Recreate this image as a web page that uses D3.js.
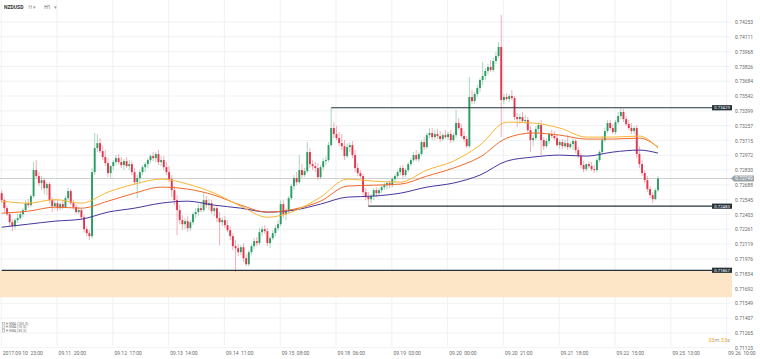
<!DOCTYPE html>
<html lang="en">
<head>
<meta charset="utf-8">
<script src="https://cdn.jsdelivr.net/npm/d3@7"></script>
<style>
  body { margin: 0; background: #fff; }
  svg { display: block; font-family: Roboto, "Noto Sans", sans-serif; }
</style>
</head>
<body>
<script>
// NZDUSD H1 candles, prices in 1e-5 units: [open, high, low, close]
var candles = [
  [72608,72637,72512,72541],[72541,72560,72426,72464],[72464,72483,72387,72406],[72406,72426,72291,72329],
  [72329,72358,72243,72291],[72291,72368,72262,72349],[72349,72406,72320,72368],[72368,72426,72349,72406],
  [72406,72464,72377,72445],[72445,72541,72426,72512],[72512,72551,72464,72493],[72493,72599,72474,72580],
  [72580,72907,72560,72830],[72830,72926,72753,72772],[72772,72810,72676,72705],[72705,72772,72637,72733],
  [72733,72753,72599,72656],[72656,72714,72589,72695],[72695,72714,72512,72541],[72541,72570,72426,72483],
  [72483,72541,72454,72512],[72512,72541,72435,72464],[72464,72522,72445,72503],[72503,72531,72454,72474],
  [72474,72580,72464,72560],[72560,72656,72541,72628],[72628,72647,72493,72512],[72512,72541,72454,72474],
  [72474,72503,72406,72426],[72426,72474,72406,72445],[72445,72464,72349,72377],[72377,72397,72233,72262],
  [72262,72291,72195,72224],[72224,72252,72156,72195],[72195,72849,72176,72810],[72810,73186,72782,73041],
  [73041,73176,73003,73089],[73089,73137,72993,73012],[73012,73070,72926,72955],[72955,73022,72868,72897],
  [72897,72945,72762,72801],[72801,72878,72753,72868],[72868,72926,72830,72907],[72907,72974,72878,72945],
  [72945,72984,72887,72907],[72907,72955,72849,72878],[72878,72935,72830,72916],[72916,72955,72849,72868],
  [72868,72926,72830,72887],[72887,72916,72782,72810],[72810,72849,72685,72714],[72714,72782,72560,72753],
  [72753,72830,72714,72810],[72810,72878,72782,72858],[72858,72907,72810,72887],[72887,72945,72849,72926],
  [72926,72984,72897,72964],[72964,73003,72916,72945],[72945,73003,72907,72984],[72984,73022,72878,72907],
  [72907,72964,72868,72926],[72926,72964,72830,72858],[72858,72907,72782,72810],[72810,72868,72714,72743],
  [72743,72782,72570,72637],[72637,72676,72493,72541],[72541,72589,72204,72445],[72445,72493,72310,72349],
  [72349,72397,72252,72310],[72310,72368,72262,72339],[72339,72387,72233,72272],[72272,72349,72243,72329],
  [72329,72426,72301,72406],[72406,72464,72368,72426],[72426,72503,72387,72464],[72464,72522,72426,72445],
  [72445,72608,72426,72541],[72541,72580,72464,72493],[72493,72551,72445,72512],[72512,72541,72406,72435],
  [72435,72483,72387,72464],[72464,72493,72329,72368],[72368,72426,72108,72329],[72329,72377,72291,72349],
  [72349,72387,72272,72301],[72301,72349,72233,72252],[72252,72291,72156,72195],[72195,72224,72060,72099],
  [72099,72156,71848,72079],[72079,72118,72002,72041],[72041,72108,72012,72089],[72089,72128,71944,71983],
  [71983,72022,71906,71925],[71925,72060,71906,72041],[72041,72118,72012,72099],[72099,72176,72070,72147],
  [72147,72185,72099,72128],[72128,72272,72108,72233],[72233,72291,72195,72262],[72262,72301,72214,72243],
  [72243,72272,72099,72128],[72128,72195,72079,72176],[72176,72252,72156,72224],[72224,72301,72195,72272],
  [72272,72349,72252,72310],[72310,72541,72291,72503],[72503,72541,72368,72406],[72406,72464,72349,72435],
  [72435,72580,72416,72560],[72560,72695,72541,72676],[72676,72782,72637,72753],[72753,72810,72685,72714],
  [72714,72974,72695,72830],[72830,72887,72753,72782],[72782,72849,72762,72820],[72820,73099,72801,73003],
  [73003,73041,72849,72887],[72887,72926,72830,72868],[72868,72907,72810,72849],[72849,72897,72733,72762],
  [72762,72878,72743,72858],[72858,72945,72830,72916],[72916,72964,72878,72926],[72926,73099,72907,73070],
  [73070,73429,73051,73234],[73234,73291,73137,73176],[73176,73253,73118,73137],[73137,73195,73060,73089],
  [73089,73176,73022,73060],[73060,73118,72926,72964],[72964,73089,72945,73051],[73051,73099,73003,73070],
  [73070,73109,72945,72974],[72974,73022,72810,72849],[72849,72897,72772,72801],[72801,72830,72753,72772],
  [72772,72791,72589,72618],[72618,72656,72541,72570],[72570,72618,72483,72551],[72551,72599,72512,72580],
  [72580,72656,72541,72637],[72637,72666,72570,72608],[72608,72656,72580,72637],[72637,72685,72608,72666],
  [72666,72705,72637,72685],[72685,72724,72647,72705],[72705,72733,72656,72685],[72685,72762,72666,72743],
  [72743,72791,72714,72772],[72772,72830,72753,72810],[72810,72868,72782,72849],[72849,72878,72753,72782],
  [72782,72849,72762,72830],[72830,72907,72810,72887],[72887,72945,72868,72926],[72926,73003,72907,72974],
  [72974,73022,72916,72935],[72935,73003,72907,72984],[72984,73118,72964,73099],[73099,73147,73022,73051],
  [73051,73186,73032,73166],[73166,73234,73137,73186],[73186,73234,73118,73147],[73147,73214,73118,73176],
  [73176,73224,73128,73157],[73157,73205,73099,73128],[73128,73186,73109,73166],[73166,73214,73128,73147],
  [73147,73195,73118,73176],[73176,73214,73089,73118],[73118,73186,73099,73166],[73166,73407,73137,73282],
  [73282,73330,73214,73234],[73234,73272,73137,73157],[73157,73205,73099,73128],[73128,73157,73041,73060],
  [73060,73724,73041,73532],[73532,73599,73465,73493],[73493,73580,73465,73561],[73561,73647,73532,73618],
  [73618,73715,73580,73695],[73695,73869,73647,73734],[73734,73811,73695,73782],[73782,73849,73744,73820],
  [73820,73888,73772,73792],[73792,73907,73772,73878],[73878,73965,73849,73926],[73926,74061,73907,74013],
  [74013,74321,73147,73503],[73503,73561,73465,73532],[73532,73570,73493,73513],[73513,73561,73484,73541],
  [73541,73599,73503,73522],[73522,73541,73311,73340],[73340,73378,73243,73320],[73320,73368,73272,73340],
  [73340,73388,73282,73301],[73301,73359,73272,73311],[73311,73340,73186,73214],[73214,73253,73003,73118],
  [73118,73166,73060,73137],[73137,73253,73118,73224],[73224,73291,73186,73263],[73263,73311,72974,73118],
  [73118,73147,73022,73060],[73060,73137,73041,73109],[73109,73195,73080,73176],[73176,73214,73137,73157],
  [73157,73205,73118,73137],[73137,73176,73051,73070],[73070,73118,73032,73099],[73099,73128,73032,73060],
  [73060,73118,73041,73089],[73089,73166,73022,73051],[73051,73099,73032,73080],[73080,73128,73022,73109],
  [73109,73128,72993,73022],[73022,73051,72945,72964],[72964,72993,72849,72878],[72878,72916,72810,72839],
  [72839,72897,72820,72887],[72887,72916,72849,72868],[72868,72907,72820,72839],[72839,72878,72801,72830],
  [72830,72945,72810,72926],[72926,73022,72907,73003],[73003,73157,72984,73118],[73118,73234,73099,73205],
  [73205,73311,73186,73282],[73282,73311,73214,73234],[73234,73272,73176,73195],[73195,73311,73176,73291],
  [73291,73388,73272,73349],[73349,73426,73320,73388],[73388,73416,73291,73320],[73320,73349,73253,73272],
  [73272,73311,73214,73234],[73234,73282,73176,73205],[73205,73253,73176,73234],[73234,73263,72945,72984],
  [72984,73060,72849,72887],[72887,72926,72772,72801],[72801,72830,72705,72733],[72733,72772,72618,72647],
  [72647,72676,72560,72589],[72589,72618,72512,72551],[72551,72656,72541,72637],[72637,72772,72618,72749]
];

// EMA values read at these candle indexes (1e-5 units)
var emaIdx    = [0,10,20,30,40,50,60,70,80,90,100,110,120,130,140,150,160,170,180,190,200,210,220,230,240,247];
var ema30     = [72531,72512,72546,72512,72618,72695,72743,72695,72608,72483,72377,72435,72570,72743,72724,72714,72830,72916,73070,73291,73282,73234,73147,73147,73157,73041];
var ema75     = [72416,72435,72474,72464,72531,72608,72666,72647,72589,72493,72426,72454,72531,72676,72685,72695,72772,72849,72955,73137,73186,73166,73128,73128,73137,73051];
var ema150    = [72281,72310,72339,72358,72426,72464,72512,72531,72493,72464,72426,72445,72503,72570,72580,72608,72666,72705,72782,72916,72955,72974,72964,73003,73022,72993];

var priceTicks = [0.74253,0.74111,0.73968,0.73826,0.73684,0.73542,0.73399,0.73257,0.73115,0.72972,0.72830,0.72688,
                  0.72545,0.72403,0.72261,0.72119,0.71976,0.71834,0.71692,0.71549,0.71407,0.71265,0.71123];
var timeIdx    = [0,21,42,63,84,105,126,147,168,189,210,231,252,273];
var timeLabels = ["2017.09.10  23:00","09.11  20:00","09.12  17:00","09.13  14:00","09.14  11:00","09.15  08:00",
                  "09.18  06:00","09.19  03:00","09.20  00:00","09.20  21:00","09.21  18:00","09.22  15:00",
                  "09.25  13:00","09.26  10:00"];

// horizontal levels: [price, first candle index]
var levels = [[0.73429,124],[0.72483,138],[0.71867,0]];
var zone = [0.71867, 0.71608];
var lastPrice = 0.72749;
var emaNames = ["EMA (150, 0)","EMA (75, 0)","EMA (30, 0)"];

var W = 760, H = 359;
var plotRight = 735;

var svg = d3.select("body").append("svg")
  .attr("width", W).attr("height", H);

var x = d3.scaleLinear().domain([0, 273]).range([1.7, 727.1]);
var y = d3.scaleLinear().domain([0.71123, 0.74253]).range([347.7, 22]);
var p = function(v) { return y(v / 1e5); };

// grid
svg.append("g").selectAll("line").data(timeIdx).enter().append("line")
  .attr("x1", function(d) { return x(d) - 0.5; }).attr("x2", function(d) { return x(d) - 0.5; })
  .attr("y1", 0).attr("y2", 346)
  .attr("stroke", "#eceef1").attr("stroke-width", 0.8);

svg.append("g").selectAll("line").data(priceTicks).enter().append("line")
  .attr("x1", 0).attr("x2", 730)
  .attr("y1", function(d) { return y(d); }).attr("y2", function(d) { return y(d); })
  .attr("stroke", "#eceef1").attr("stroke-width", 0.8);

// support zone
svg.append("rect")
  .attr("x", 0).attr("width", 732)
  .attr("y", y(zone[0])).attr("height", y(zone[1]) - y(zone[0]))
  .attr("fill", "#fde6c8");

// last price line
svg.append("line")
  .attr("x1", 0).attr("x2", plotRight)
  .attr("y1", y(lastPrice)).attr("y2", y(lastPrice))
  .attr("stroke", "#c4c4c4").attr("stroke-width", 0.8);

// candles
var up = "#2a9d62", down = "#e5344b";
var cg = svg.append("g");
cg.selectAll("line").data(candles).enter().append("line")
  .attr("x1", function(d, i) { return x(i); }).attr("x2", function(d, i) { return x(i); })
  .attr("y1", function(d) { return p(d[1]); }).attr("y2", function(d) { return p(d[2]); })
  .attr("stroke", function(d) { return d[3] >= d[0] ? up : down; })
  .attr("stroke-opacity", 0.5).attr("stroke-width", 0.8);

cg.selectAll("rect").data(candles).enter().append("rect")
  .attr("x", function(d, i) { return x(i) - 0.95; })
  .attr("width", 1.9)
  .attr("y", function(d) { return p(Math.max(d[0], d[3])); })
  .attr("height", function(d) { return Math.max(0.6, Math.abs(p(d[0]) - p(d[3]))); })
  .attr("fill", function(d) { return d[3] >= d[0] ? up : down; });

// EMA lines
var emaLine = function(vals) {
  return d3.line()
    .x(function(d, i) { return x(emaIdx[i]); })
    .y(function(d) { return p(d); })
    .curve(d3.curveMonotoneX)(vals);
};
[[ema150, "#45359e"], [ema75, "#f0692a"], [ema30, "#f7b733"]].forEach(function(e) {
  svg.append("path").attr("d", emaLine(e[0]))
    .attr("fill", "none").attr("stroke", e[1]).attr("stroke-width", 1);
});

// level lines with labels
levels.forEach(function(l) {
  svg.append("line")
    .attr("x1", x(l[1])).attr("x2", 712)
    .attr("y1", y(l[0])).attr("y2", y(l[0]))
    .attr("stroke", "#26323a").attr("stroke-width", 1.2);
  svg.append("rect")
    .attr("x", 712).attr("y", y(l[0]) - 2.6).attr("width", 20).attr("height", 5.2)
    .attr("fill", "#26323a");
  svg.append("text")
    .attr("x", 722).attr("y", y(l[0]) + 1.5)
    .attr("text-anchor", "middle").attr("font-size", 4.3).attr("fill", "#fff")
    .text(d3.format(".5f")(l[0]));
});

// price axis
var yAxis = d3.axisRight(y).tickValues(priceTicks).tickFormat(d3.format(".5f")).tickSize(0).tickPadding(0);
var ya = svg.append("g").attr("transform", "translate(735,0)").call(yAxis);
ya.select(".domain").remove();
ya.selectAll("text").attr("font-size", 5).attr("fill", "#6b6b6b").attr("font-family", "Roboto, sans-serif");

// last price tag
var ly = y(lastPrice);
svg.append("path")
  .attr("d", "M731," + ly + " L734," + (ly - 3) + " L754," + (ly - 3) + " L754," + (ly + 3) + " L734," + (ly + 3) + " Z")
  .attr("fill", "#9aa1a8");
svg.append("text")
  .attr("x", 744).attr("y", ly + 1.7).attr("text-anchor", "middle")
  .attr("font-size", 4.8).attr("fill", "#fff").text(d3.format(".5f")(lastPrice));

// time axis
var xAxis = d3.axisBottom(x).tickValues(timeIdx)
  .tickFormat(function(d, i) { return timeLabels[i]; }).tickSize(0).tickPadding(0);
var xa = svg.append("g").attr("transform", "translate(0,351)").call(xAxis);
xa.select(".domain").remove();
xa.selectAll("text")
  .attr("text-anchor", "start").attr("dx", 0.6)
  .attr("font-size", 5).attr("fill", "#6b6b6b").attr("font-family", "Roboto, sans-serif")
  .style("white-space", "pre");

// header
var hd = svg.append("text").attr("x", 4).attr("y", 9).attr("font-size", 5);
hd.append("tspan").attr("fill", "#333").attr("font-weight", "bold").text("NZDUSD");
hd.append("tspan").attr("fill", "#999").attr("dx", 5).text("H \u25BE");
hd.append("tspan").attr("fill", "#666").attr("dx", 8).text("H1");
hd.append("tspan").attr("fill", "#999").attr("dx", 3).text("\u25BE");

// legend
emaNames.forEach(function(n, i) {
  var ry = 323.5 + i * 3.7;
  svg.append("rect").attr("x", 2.5).attr("y", ry - 1.2).attr("width", 2.3).attr("height", 2.3)
    .attr("fill", "none").attr("stroke", "#888").attr("stroke-width", 0.4);
  svg.append("text").attr("x", 5.8).attr("y", ry + 1.1).attr("font-size", 3.3).attr("fill", "#777").text("H");
  svg.append("text").attr("x", 9.3).attr("y", ry + 1.1).attr("font-size", 3.3).attr("fill", "#666").text(n);
});

// countdown
var cd = svg.append("text").attr("x", 730).attr("y", 341.5).attr("text-anchor", "end").attr("font-size", 5.6);
cd.append("tspan").attr("fill", "#f5a623").text("33");
cd.append("tspan").attr("fill", "#999").text("m ");
cd.append("tspan").attr("fill", "#f5a623").text("33");
cd.append("tspan").attr("fill", "#999").text("s");
</script>
</body>
</html>
